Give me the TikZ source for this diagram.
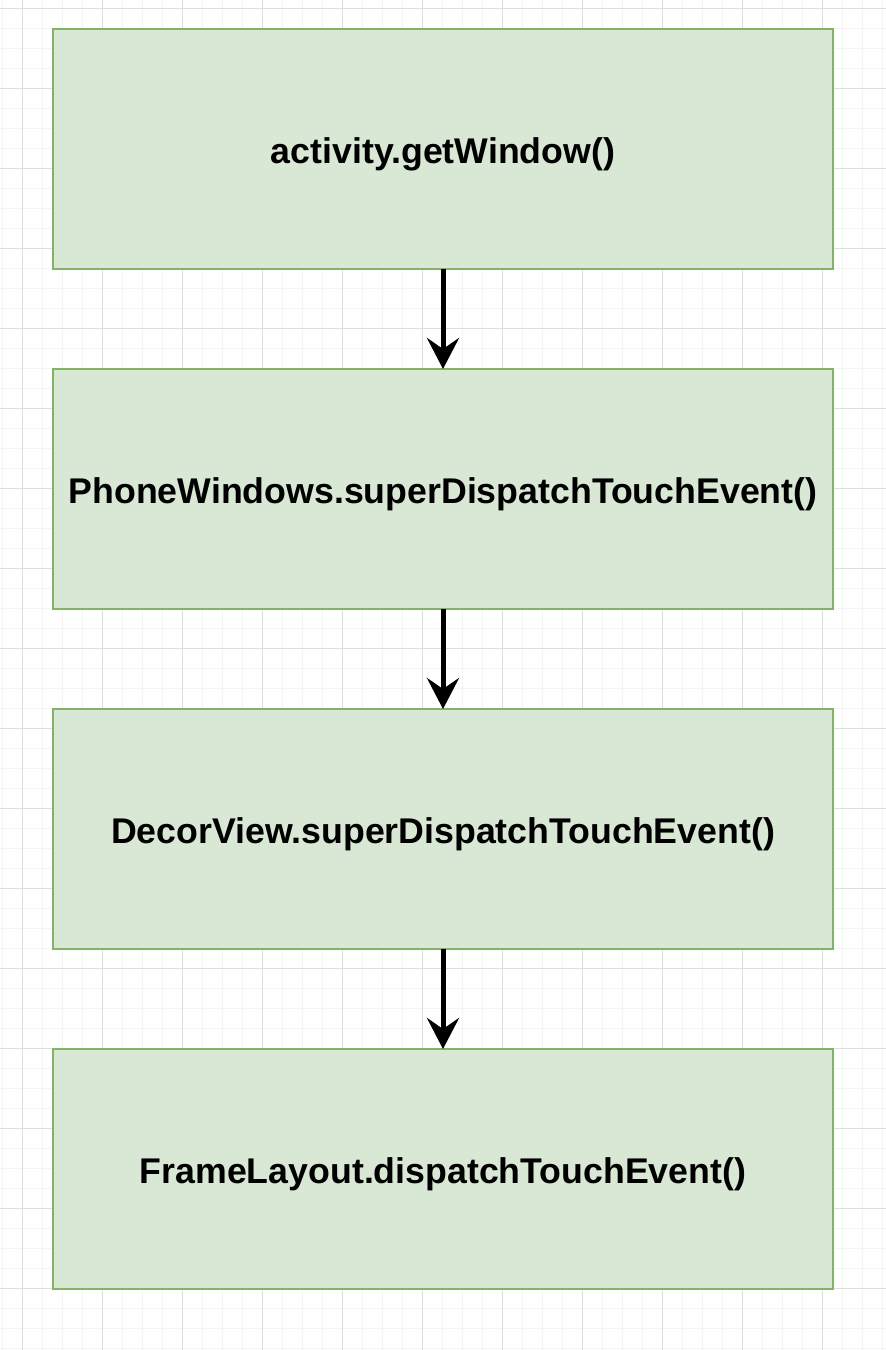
\documentclass[tikz,border=0pt]{standalone}
\usepackage{fontspec}
\setmainfont{Liberation Sans}
\usetikzlibrary{arrows.meta}
\begin{document}
\begin{tikzpicture}[x=1pt,y=-1pt,
  stepbox/.style={draw=boxline,fill=boxfill,line width=1.3pt,minimum width=780pt,minimum height=240pt,inner sep=0pt,outer sep=0pt,text height=29pt,text depth=0pt,font=\fontsize{35.7}{40}\selectfont\bfseries,anchor=north west},
  flow/.style={line width=5pt,-{Stealth[length=31pt,width=32pt,inset=11pt]}}]
\definecolor{boxline}{HTML}{82B366}
\definecolor{boxfill}{HTML}{D9E7D5}
\definecolor{gridminor}{HTML}{F4F4F4}
\definecolor{gridmajor}{HTML}{DEDEDE}
\useasboundingbox (0,0) rectangle (886,1350);
\fill[white] (0,0) rectangle (886,1350);
\foreach \i in {0,...,44} {\draw[gridminor,line width=1pt] ({2+20*\i},0) -- ({2+20*\i},1350);}
\foreach \j in {0,...,67} {\draw[gridminor,line width=1pt] (0,{8+20*\j}) -- (886,{8+20*\j});}
\foreach \i in {0,...,11} {\draw[gridmajor,line width=1pt] ({22+80*\i},0) -- ({22+80*\i},1350);}
\foreach \j in {0,...,16} {\draw[gridmajor,line width=1pt] (0,{8+80*\j}) -- (886,{8+80*\j});}
\node[stepbox] (a) at (53,29) {activity.getWindow()};
\node[stepbox] (b) at (53,369) {PhoneWindows.superDispatchTouchEvent()};
\node[stepbox] (c) at (53,709) {DecorView.superDispatchTouchEvent()};
\node[stepbox] (d) at (53,1049) {FrameLayout.dispatchTouchEvent()};
\draw[flow] (a.south) -- (b.north);
\draw[flow] (b.south) -- (c.north);
\draw[flow] (c.south) -- (d.north);
\end{tikzpicture}
\end{document}
